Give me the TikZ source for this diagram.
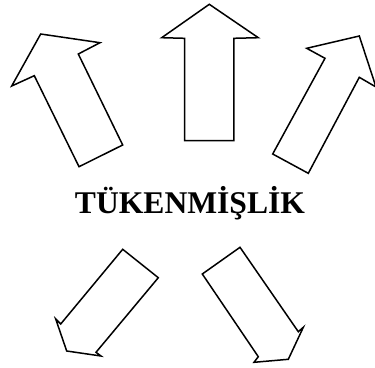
\documentclass[tikz,border=0pt]{standalone}
\usepackage{fontspec}
\setmainfont{Liberation Serif}
\begin{document}
\begin{tikzpicture}[x=1pt,y=-1pt,
  blockarrow/.style={draw=black,line width=1.5pt,fill=white,line join=miter},
  title/.style={font=\bfseries\fontsize{31.6}{36}\selectfont,inner sep=0pt,anchor=base}]
\useasboundingbox (0,0) rectangle (375,367);
\clip (0,0) rectangle (375,367);
% top-left arrow
\draw[blockarrow] (40.7,34) -- (100,42.7) -- (78.3,54) -- (122.7,145) -- (79,166.7) -- (34.3,75.7) -- (11.7,86) -- cycle;
% top-middle arrow
\draw[blockarrow] (209.3,4.3) -- (258.3,37.7) -- (233.8,38.3) -- (233.8,140.7) -- (184.7,140.7) -- (184.7,38.3) -- (161.7,37.7) -- cycle;
% top-right arrow
\draw[blockarrow] (359.3,36) -- (376,87) -- (359.3,77.3) -- (308.3,173.3) -- (272.7,154) -- (325,58.3) -- (306.7,48.3) -- cycle;
% bottom-left arrow
\draw[blockarrow] (122.7,249.3) -- (158.3,277.7) -- (96,352.3) -- (101,356) -- (66.7,351) -- (55.7,319) -- (60.7,324) -- cycle;
% bottom-right arrow
\draw[blockarrow] (240,247.3) -- (202.3,274) -- (258.3,356.7) -- (254,362.3) -- (288.3,359.3) -- (303.3,327.3) -- (298.3,331.7) -- cycle;
\node[title] (t) at (190,213.3) {TÜKENMİŞLİK};
\end{tikzpicture}
\end{document}
